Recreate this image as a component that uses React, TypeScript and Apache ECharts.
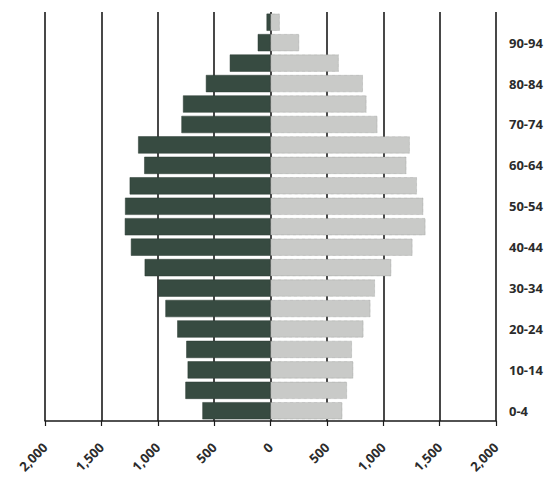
import React, { useEffect, useRef } from "react";
import * as echarts from "echarts";

const ageGroups = [
  "0-4", "5-9", "10-14", "15-19", "20-24", "25-29", "30-34", "35-39", "40-44", "45-49",
  "50-54", "55-59", "60-64", "65-69", "70-74", "75-79", "80-84", "85-89", "90-94", "95-99",
];
const male = [604, 755, 735, 747, 827, 932, 995, 1116, 1238, 1292, 1290, 1249, 1120, 1174, 790, 776, 573, 361, 113, 35];
const female = [637, 678, 734, 722, 824, 886, 926, 1071, 1259, 1374, 1355, 1298, 1205, 1235, 948, 851, 819, 605, 254, 82];
const xTicks = [-2000, 2000, 500];

export default function App() {
  const ref = useRef<HTMLDivElement>(null);
  useEffect(() => {
    if (!ref.current) return;
    const chart = echarts.init(ref.current, null, { renderer: "svg" });
    chart.setOption({
      animation: false,
      backgroundColor: "#ffffff",
      grid: { left: 37, right: 54, top: 4, bottom: 57, containLabel: false },
      xAxis: {
        type: "value",
        min: xTicks[0],
        max: xTicks[1],
        interval: xTicks[2],
        axisLine: { show: true, lineStyle: { color: "#1a1a1a", width: 1.5 } },
        axisTick: { show: true, length: 5, lineStyle: { color: "#1a1a1a", width: 1.2 } },
        splitLine: { show: true, lineStyle: { color: "#1a1a1a", width: 1.6 } },
        axisLabel: {
          rotate: 45,
          margin: 24,
          color: "#2b2b2b",
          fontFamily: "Open Sans",
          fontWeight: "bold",
          fontSize: 13,
          formatter: (v: number) => Math.abs(v).toLocaleString("en-US"),
        },
      },
      yAxis: {
        type: "category",
        position: "right",
        data: ageGroups,
        axisLine: { show: false },
        axisTick: { show: false },
        splitLine: { show: false },
        axisLabel: {
          interval: 1,
          margin: 13,
          color: "#2b2b2b",
          fontFamily: "Open Sans",
          fontWeight: "bold",
          fontSize: 13,
        },
      },
      series: [
        {
          name: "Male",
          type: "bar",
          stack: "pop",
          barCategoryGap: "16%",
          data: male.map((v) => -v),
          itemStyle: { color: "#374b41", borderColor: "#2a3a32", borderWidth: 0.5 },
        },
        {
          name: "Female",
          type: "bar",
          stack: "pop",
          barCategoryGap: "16%",
          data: female,
          itemStyle: { color: "#c9cac8", borderColor: "#8f908e", borderWidth: 0.6, borderType: "dotted" },
        },
      ],
    });
    return () => chart.dispose();
  }, []);
  return <div ref={ref} style={{ width: 542, height: 470 }} />;
}
